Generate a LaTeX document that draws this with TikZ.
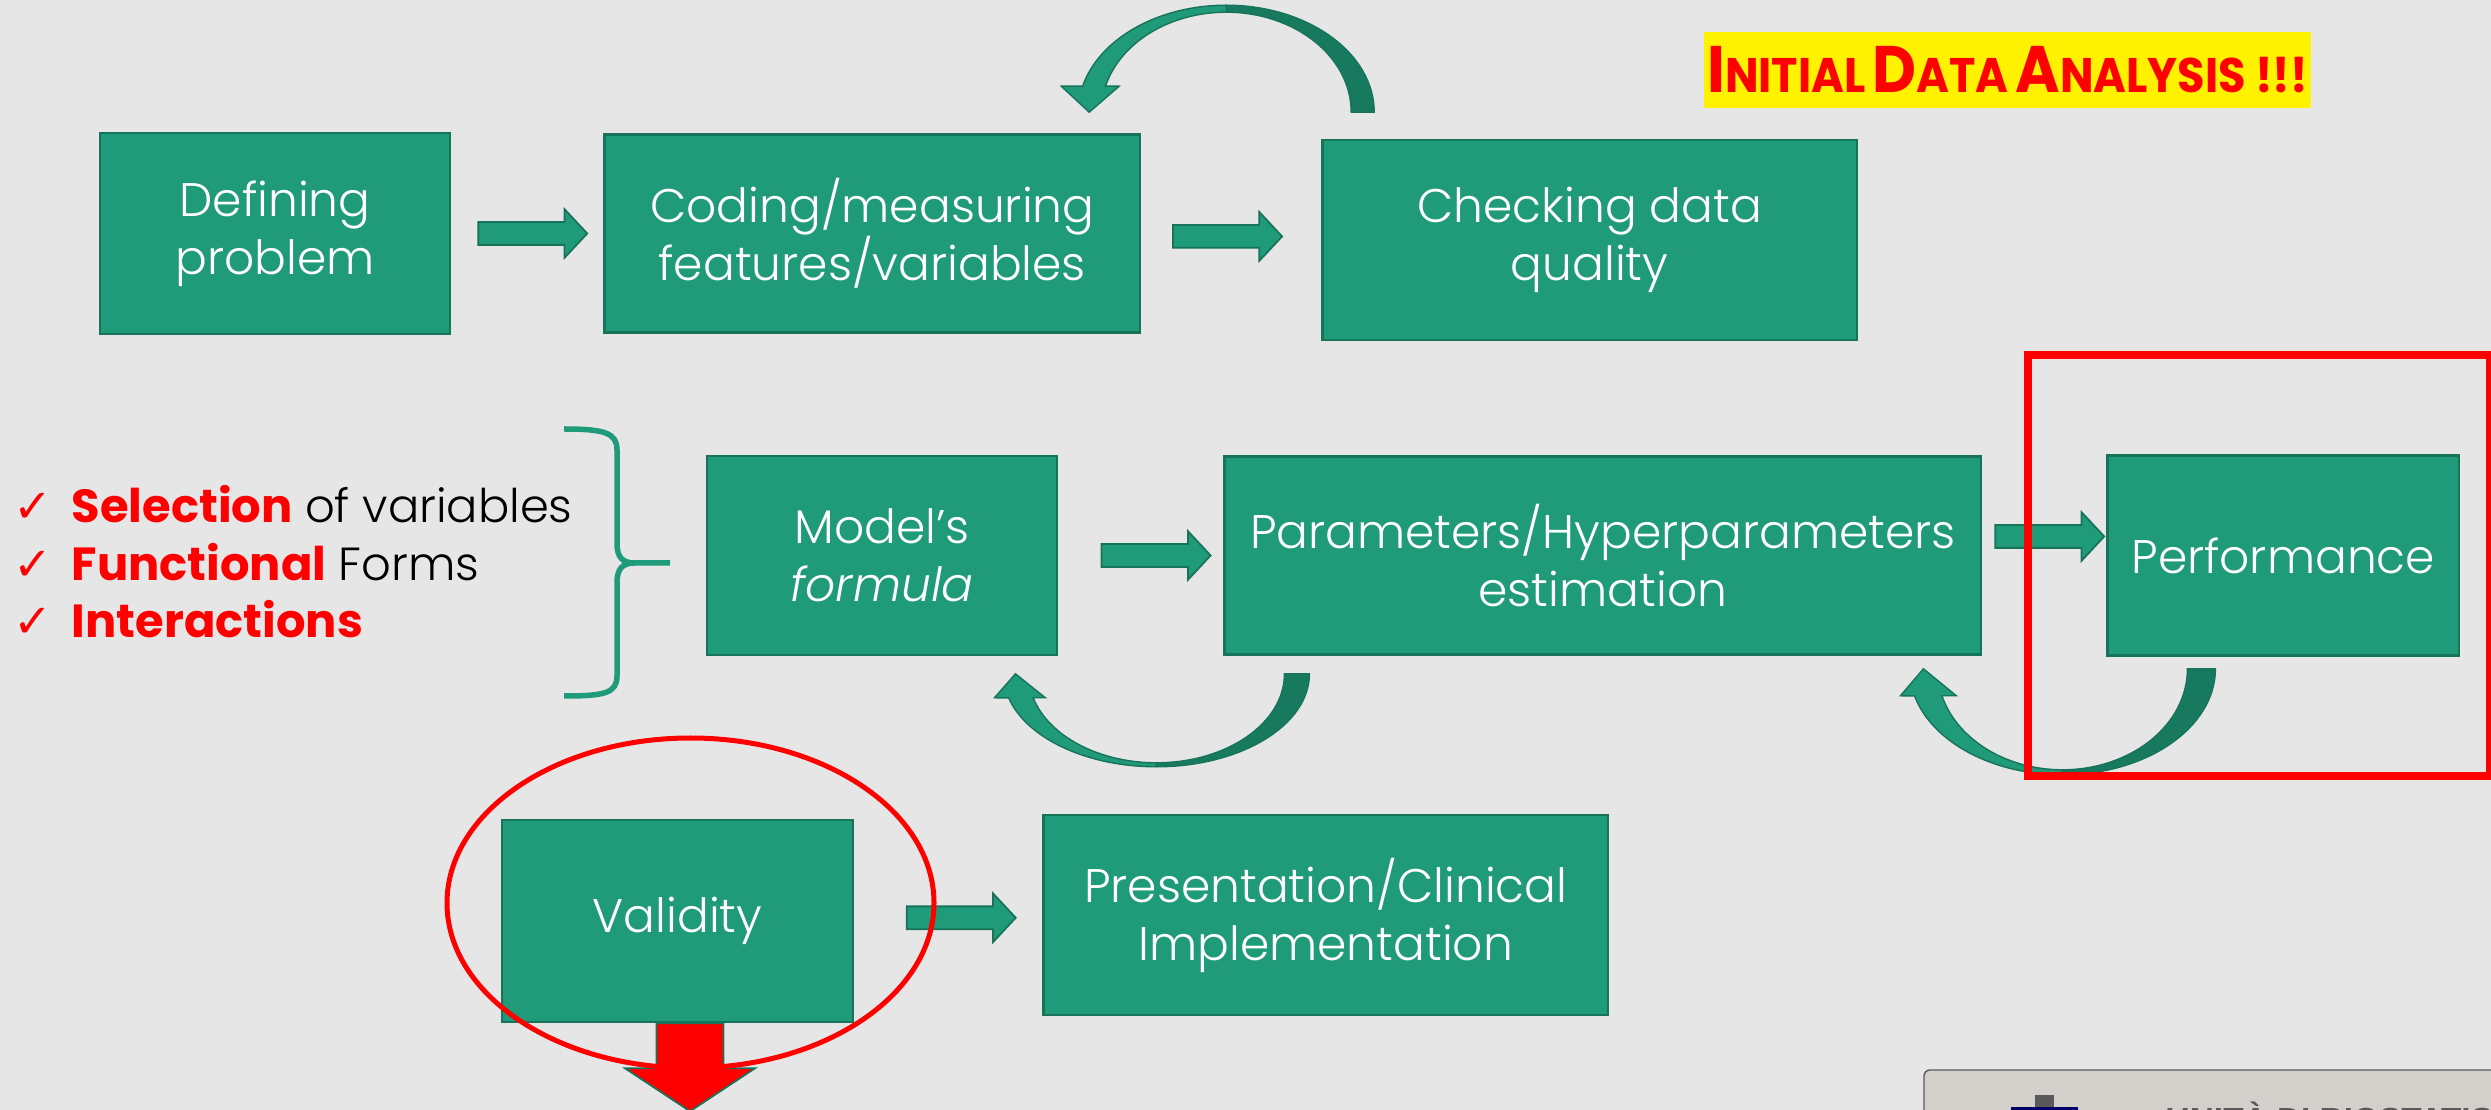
\documentclass[tikz,border=0pt]{standalone}
\usepackage{fontspec}
\setmainfont{Poppins}
\newfontfamily\thin{Poppins Light}[ItalicFont={Poppins Light Italic}]
\newfontfamily\tickfont{DejaVu Sans}
\newfontfamily\logofont{Liberation Sans}
\usetikzlibrary{positioning,calc,shapes.arrows}

\definecolor{slide}{HTML}{E6E6E6}
\definecolor{boxfill}{HTML}{1F9B79}
\definecolor{boxline}{HTML}{17735A}
\definecolor{ribbondark}{HTML}{177A5F}
\definecolor{logogrey}{HTML}{D3CFCA}

\tikzset{block/.style={draw=boxline,line width=0.7pt,fill=boxfill,text=white,align=center,
           inner sep=0pt,font=\thin\fontsize{13.4}{16.5}\selectfont},
         blockarrow/.style={single arrow,draw=boxline,line width=0.5pt,fill=boxfill,inner xsep=0pt,
           inner ysep=0.105cm,minimum height=1.09cm,minimum width=0.47cm,single arrow head extend=0.13cm,
           single arrow tip angle=94},
         ribbon/.style={fill=boxfill,draw=boxline,line width=0.4pt},
         ribbonback/.style={fill=ribbondark,draw=boxline,line width=0.4pt},
         item/.style={anchor=base west,inner sep=0pt,font=\fontsize{13.2}{16.5}\selectfont},
         curly/.style={draw=boxfill,line width=0.055cm},
         redmark/.style={draw=red,line width=0.05cm}
}
\newcommand{\tick}{\makebox[0.58cm][l]{\textcolor{red}{\tickfont ✓}}}
\newcommand{\sccap}[2]{{\fontsize{18.7}{19}\selectfont #1}{\fontsize{13.8}{14}\selectfont #2}}

\begin{document}
\begin{tikzpicture}[x=0.01cm,y=0.01cm]
\useasboundingbox (0,0) rectangle (2491,-1110);
\clip (0,0) rectangle (2491,-1110);
\fill[slide] (0,0) rectangle (2491,-1110);

% first row
\node[block,minimum width=3.5cm,minimum height=2.01cm] (defprob) at (275,-233.5) {Defining\\problem};
\node[block,minimum width=5.35cm,minimum height=1.98cm,right=1.52cm of defprob] (coding) {Coding/measuring\\features/variables};
\node[block,minimum width=5.34cm,minimum height=2cm,right=1.8cm of coding,yshift=-0.065cm] (checking) {Checking data\\quality};

% second row
\node[block,minimum width=3.5cm,minimum height=1.99cm] (model) at (882,-555.5) {Model’s\\\textit{formula}};
\node[block,minimum width=7.56cm,minimum height=1.98cm,right=1.65cm of model] (params) {Parameters/Hyperparameters\\estimation};
\node[block,minimum width=3.51cm,minimum height=2cm,right=1.24cm of params] (perf) {Performance};

% third row
\node[block,minimum width=3.51cm,minimum height=2.02cm] (valid) at (677.5,-921) {Validity};
\node[block,minimum width=5.64cm,minimum height=2cm,right=1.88cm of valid,yshift=0.06cm] (present) {Presentation/Clinical\\Implementation};

% straight arrows
\node[blockarrow] (a1) at ($(defprob.east)!.5!(coding.west)$) {};
\node[blockarrow] (a2) at ($(coding.east)!.45!(checking.west)$) {};
\node[blockarrow] (a3) at ($(model.east)!.56!(params.west)$) {};
\node[blockarrow,yshift=0.19cm] (a4) at ($(params.east)!.5!(perf.west)$) {};
\node[blockarrow] (a5) at ($(valid.east)!.54!(present.west)$) {};

% curved arrows
\coordinate (loopc) at ($(coding.north east)+(85,21)$);
\filldraw[ribbonback] ($(loopc)+(90:148 and 107)$) arc[start angle=90,end angle=0,x radius=148,y radius=107]
  -- ($(loopc)+(0:125 and 100)$) arc[start angle=0,end angle=90,x radius=125,y radius=100] -- cycle;
\filldraw[ribbon] ($(loopc)+(165.9:148 and 107)$) arc[start angle=165.9,end angle=90,x radius=148,y radius=107]
  -- ($(loopc)+(90:125 and 100)$) arc[start angle=90,end angle=164.9,x radius=125,y radius=100]
  -- ($(loopc)+(-107,26)$) -- ($(loopc)+(-137,0)$) -- ($(loopc)+(-165,26)$) -- cycle;

\coordinate (dipa) at ($(params.south west)+(-67,-18)$);
\filldraw[ribbonback] ($(dipa)+(270:153 and 93)$) arc[start angle=270,end angle=360,x radius=153,y radius=93]
  -- ($(dipa)+(0:128 and 89)$) arc[start angle=360,end angle=270,x radius=128,y radius=89] -- cycle;
\filldraw[ribbon] ($(dipa)+(195:153 and 93)$) arc[start angle=195,end angle=270,x radius=153,y radius=93]
  -- ($(dipa)+(270:128 and 89)$) arc[start angle=270,end angle=195.6,x radius=128,y radius=89]
  -- ($(dipa)+(-111,-24)$) -- ($(dipa)+(-141,0)$) -- ($(dipa)+(-162,-24)$) -- cycle;

\coordinate (dipb) at ($(perf.south west)+(-44,-12)$);
\filldraw[ribbonback] ($(dipb)+(270:153 and 106)$) arc[start angle=270,end angle=360,x radius=153,y radius=106]
  -- ($(dipb)+(0:125 and 101)$) arc[start angle=360,end angle=270,x radius=125,y radius=101] -- cycle;
\filldraw[ribbon] ($(dipb)+(194.8:153 and 106)$) arc[start angle=194.8,end angle=270,x radius=153,y radius=106]
  -- ($(dipb)+(270:125 and 101)$) arc[start angle=270,end angle=195.5,x radius=125,y radius=101]
  -- ($(dipb)+(-106,-27)$) -- ($(dipb)+(-139,0)$) -- ($(dipb)+(-162,-27)$) -- cycle;

% model choices
\node[item] (sel) at (13,-523) {\tick\textcolor{red}{\bfseries Selection} {\thin of variables}};
\node[item] (func) at (13,-581) {\tick\textcolor{red}{\bfseries Functional} {\thin Forms}};
\node[item] (inter) at (13,-638) {\tick\textcolor{red}{\bfseries Interactions}};
\draw[curly] (564,-429) .. controls (605,-429) and (617,-433) .. (617,-450) -- (617,-543)
  .. controls (617,-557) and (622,-563) .. (635,-563) -- (670,-563)
  (635,-563) .. controls (622,-563) and (617,-569) .. (617,-583) -- (617,-676)
  .. controls (617,-693) and (605,-696) .. (564,-696);

% title
\node[fill=yellow,minimum width=6.07cm,minimum height=0.76cm,inner sep=0pt,text=red,font=\bfseries] (ida) at (2007.5,-70)
  {\scalebox{0.92}[1]{\sccap{I}{NITIAL} \sccap{D}{ATA} \sccap{A}{NALYSIS !!!}}};

% logo strip
\filldraw[fill=logogrey,draw=gray!70!black,line width=0.4pt,rounded corners=0.06cm] (1924,-1070) rectangle (2560,-1180);
\fill[gray!70!black] (2035,-1095) rectangle (2054,-1112);
\fill[blue!40!black] (2011,-1107) rectangle (2078,-1115);
\node[anchor=base west,inner sep=0pt,text=black!65,font=\logofont\bfseries\fontsize{9.5}{10}\selectfont] (unit) at (2165,-1131) {UNITÀ DI BIOSTATISTICA};

% highlights
\coordinate (vs) at ($(valid.south)+(12.5,0)$);
\filldraw[fill=red,draw=boxline,line width=0.5pt] ($(vs)+(-33.5,0)$) -- ($(vs)+(-33.5,-45)$) -- ($(vs)+(-65,-45)$)
  -- ($(vs)+(0,-88)$) -- ($(vs)+(65,-45)$) -- ($(vs)+(33.5,-45)$) -- ($(vs)+(33.5,0)$) -- cycle;
\draw[redmark,line width=0.08cm] (2028,-355.5) rectangle (2490,-776);
\draw[redmark] (690.5,-903) ellipse [x radius=243.5,y radius=165];

\end{tikzpicture}
\end{document}
